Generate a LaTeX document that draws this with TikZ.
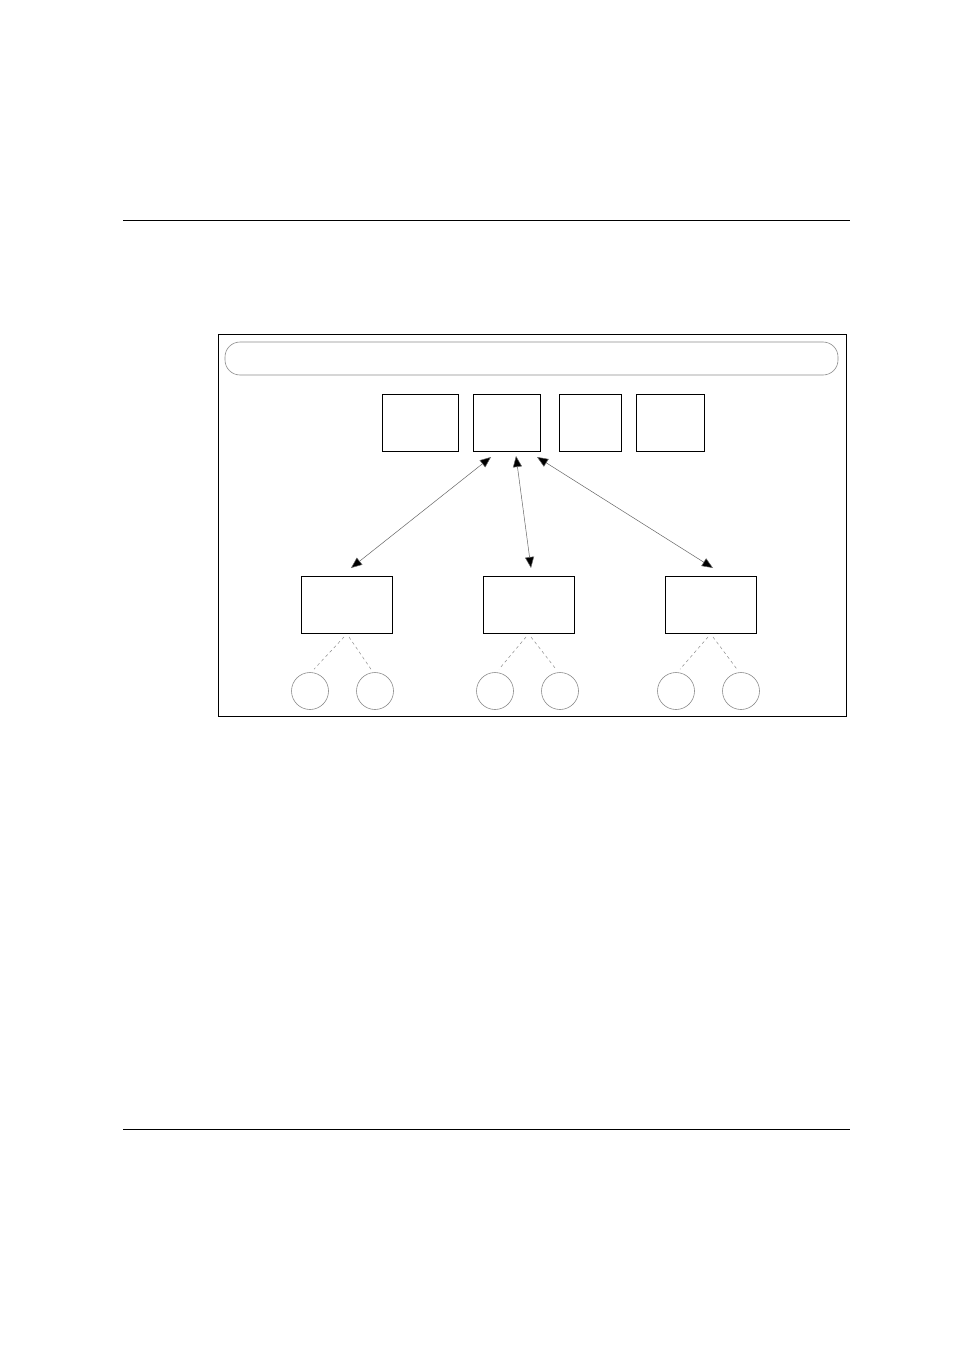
\documentclass[tikz,border=0pt]{standalone}
\usetikzlibrary{arrows.meta,calc}
\begin{document}
\begin{tikzpicture}[x=1pt,y=-1pt,
  box/.style={draw=black,line width=0.9pt},
  leaf/.style={draw=black!45,line width=0.6pt},
  link/.style={draw=black!60,line width=0.5pt,{Triangle[length=11pt,width=9pt,fill=black]}-{Triangle[length=11pt,width=9pt,fill=black]}},
  dline/.style={draw=black!45,line width=0.5pt,dash pattern=on 3pt off 3pt}]
\useasboundingbox (0,0) rectangle (954,1351);
\fill[white] (0,0) rectangle (954,1351);
% rules
\coordinate (r1a) at (123,220); \coordinate (r1b) at (850,220);
\coordinate (r2a) at (123,1129); \coordinate (r2b) at (850,1129);
\draw[line width=0.7pt] (r1a) -- (r1b);
\draw[line width=0.7pt] (r2a) -- (r2b);
% frame
\draw[box] (218,334) rectangle (846,716);
\draw[draw=black!45,line width=0.6pt,rounded corners=15pt] (225,342) rectangle (838,375);
% top boxes
\draw[box] (382,394) rectangle (458,451);
\draw[box] (473,394) rectangle (540,451);
\draw[box] (559,394) rectangle (621,451);
\draw[box] (636,394) rectangle (704,451);
% bottom boxes
\draw[box] (301,576) rectangle (392,633);
\draw[box] (483,576) rectangle (574,633);
\draw[box] (665,576) rectangle (756,633);
% named endpoints
\coordinate (a1) at (491,457); \coordinate (b1) at (351,568);
\coordinate (a2) at (516,456); \coordinate (b2) at (531,568);
\coordinate (a3) at (537,457); \coordinate (b3) at (713,568);
\draw[link] (a1) -- (b1);
\draw[link] (a2) -- (b2);
\draw[link] (a3) -- (b3);
% leaves
\foreach \cx/\n in {310/1,375/2,495/3,560/4,676/5,741/6}{
  \node[leaf,circle,minimum size=37pt,inner sep=0pt] (c\n) at (\cx,691) {};
}
\foreach \bx/\l/\r in {346/1/2,528/3/4,710/5/6}{
  \coordinate (pl\l) at (\bx-2,637);
  \coordinate (pr\l) at (\bx+3,637);
  \coordinate (ql\l) at ($(c\l.north)+(4,-3)$);
  \coordinate (qr\l) at ($(c\r.north)+(-4,-3)$);
  \draw[dline] (pl\l) -- (ql\l);
  \draw[dline] (pr\l) -- (qr\l);
}
\end{tikzpicture}
\end{document}
